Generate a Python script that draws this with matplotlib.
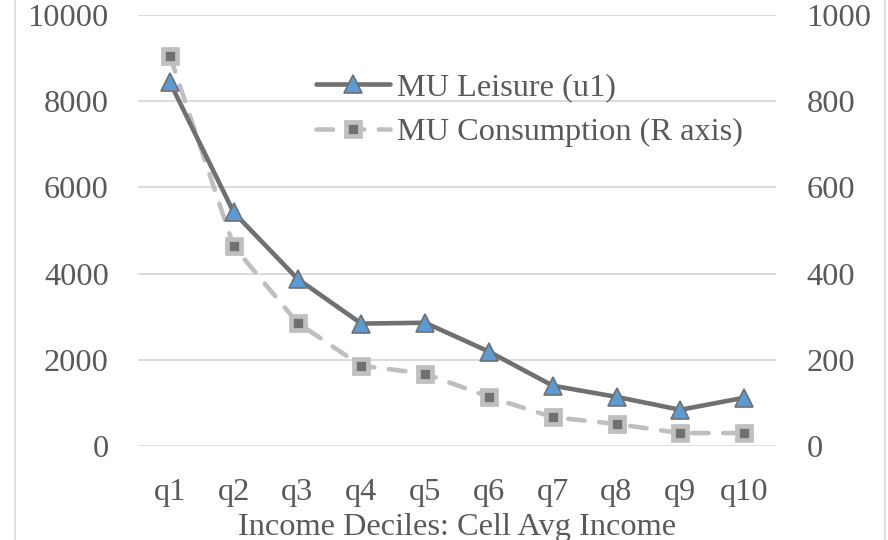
import matplotlib
matplotlib.use("Agg")
import matplotlib.pyplot as plt
from matplotlib.lines import Line2D

# marginal utility by income decile
deciles = ["q1", "q2", "q3", "q4", "q5", "q6", "q7", "q8", "q9", "q10"]
mu_leisure = [8440, 5420, 3880, 2840, 2860, 2190, 1400, 1140, 840, 1120]
mu_consumption = [905, 463, 286, 186, 168, 114, 67, 51, 30, 30]

TEXT = "#595959"
GRID = "#D9D9D9"
DARK = "#707070"
LIGHT = "#BFBFBF"
BLUE = "#5B9BD5"

plt.rcParams["font.family"] = ["Liberation Serif", "DejaVu Serif"]
FS = 23.3

fig = plt.figure(figsize=(8.88, 5.4), dpi=100)
W, H = 888, 540
x0, x1, ytop, ybot = 138, 776, 15, 446
ax = fig.add_axes([x0 / W, (H - ybot) / H, (x1 - x0) / W, (ybot - ytop) / H])
ax2 = ax.twinx()

# left axis on top so the solid series sits over the dashed one
ax.set_zorder(ax2.get_zorder() + 1)
ax.patch.set_visible(False)

xs = list(range(len(deciles)))

cons_style = dict(color=LIGHT, lw=3.3, dashes=(3.6, 3.2), dash_capstyle="round",
                  marker="s", ms=9.4, mfc=DARK, mec=LIGHT, mew=3.4)
leis_style = dict(color=DARK, lw=3.3, marker="^", ms=13.5, mfc=BLUE,
                  mec=DARK, mew=1.2, solid_capstyle="round")

ax2.plot(xs, mu_consumption, label="MU Consumption (R axis)", **cons_style)
ax.plot(xs, mu_leisure, label="MU Leisure (u1)", **leis_style)

ax.set_xlim(-0.5, len(deciles) - 0.5)
ax.set_ylim(0, 10000)
ax2.set_ylim(0, 1000)
ax.set_yticks(range(0, 10001, 2000))
ax2.set_yticks(range(0, 1001, 200))
ax.set_xticks(xs)
ax.set_xticklabels(deciles)

ax2.grid(axis="y", color=GRID, lw=1.3)
ax2.set_axisbelow(True)

for a in (ax, ax2):
    for s in a.spines.values():
        s.set_visible(False)
    a.tick_params(length=0, labelsize=FS, labelcolor=TEXT)
ax.tick_params(axis="y", pad=21)
ax2.tick_params(axis="y", pad=22)
ax.tick_params(axis="x", pad=23)

ax.set_xlabel("Income Deciles: Cell Avg Income", fontsize=FS, color=TEXT,
              labelpad=4)

# legend: leisure first, then consumption
handles = [Line2D([], [], **leis_style), Line2D([], [], **cons_style)]
fig.legend(handles, ["MU Leisure (u1)", "MU Consumption (R axis)"],
           loc="upper left", bbox_to_anchor=(316 / W, 1 - 73 / H),
           frameon=False, fontsize=FS, labelcolor=TEXT, handlelength=2.3,
           handletextpad=0.2, labelspacing=0.45, borderaxespad=0,
           borderpad=0)

# chart frame edges
for xe in (15, 885):
    fig.add_artist(Line2D([xe / W, xe / W], [0, 1], color=GRID, lw=1.2))

fig.savefig("out.png", dpi=100)
